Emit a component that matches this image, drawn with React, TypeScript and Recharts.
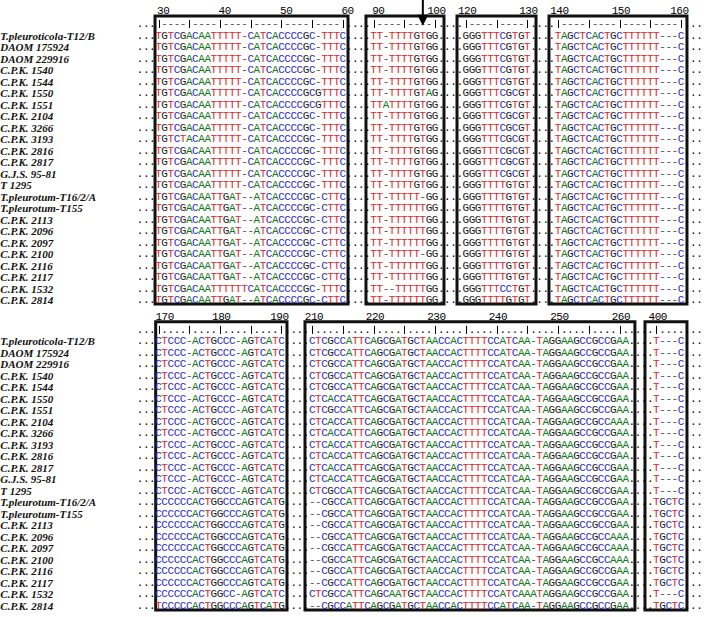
import { ReferenceArea, Scatter, ScatterChart, XAxis, YAxis } from "recharts";

// strain names, one per alignment row (same order in both panels)
const strains = [
  "T.pleuroticola-T12/B", "DAOM 175924", "DAOM 229916", "C.P.K. 1540", "C.P.K. 1544",
  "C.P.K. 1550", "C.P.K. 1551", "C.P.K. 2104", "C.P.K. 3266", "C.P.K. 3193",
  "C.P.K. 2816", "C.P.K. 2817", "G.J.S. 95-81", "T 1295", "T.pleurotum-T16/2/A",
  "T.pleurotum-T155", "C.P.K. 2113", "C.P.K. 2096", "C.P.K. 2097", "C.P.K. 2100",
  "C.P.K. 2116", "C.P.K. 2117", "C.P.K. 1532", "C.P.K. 2814",
];

// top panel, positions 30-60
const seq30 = [
  "TGTCGACAATTTTT-CATCACCCCGC-TTTC",
  "TGTCGACAATTTTT-CATCACCCCGCGTTTC",
  "TGTCTACAATTTTT-CATCACCCCGC-TTTC",
  "TGTCGACAATTGAT--ATCACCCCGC-CTTC",
  "TGTCGACAATTTTTTCATCACCCCGC-TTTC",
];
const row30 = [0, 0, 0, 0, 0, 1, 1, 0, 0, 2, 0, 0, 0, 0, 3, 3, 3, 3, 3, 3, 3, 3, 4, 3];

// positions 90-100
const seq90 = ["TT-TTTTGTGG", "TT-TTTTGTAG", "TTATTTTGTGG", "TT-TTTTT-GG", "TT-TTTTTTGG", "TT--TTTTTGG"];
const row90 = [0, 0, 0, 0, 0, 1, 2, 0, 0, 0, 0, 0, 0, 0, 3, 4, 4, 4, 4, 3, 4, 4, 5, 4];

// positions 120-130
const seq120 = ["GGGTTTCGTGT", "GGGTTTCGCGT", "GGGTTTTGTGT", "GGGTTTCCTGT"];
const row120 = [0, 0, 0, 0, 0, 1, 0, 1, 1, 1, 1, 1, 1, 2, 2, 2, 2, 2, 2, 2, 2, 2, 3, 2];

// positions 140-160
const seq140 = ["TAGCTCACTGCTTTTTT---C"];
const row140 = [0, 0, 0, 0, 0, 0, 0, 0, 0, 0, 0, 0, 0, 0, 0, 0, 0, 0, 0, 0, 0, 0, 0, 0];

// bottom panel, positions 170-190
const seq170 = ["CTCCC-ACTGCCC-AGTCATC", "CCCCCCACTGGCCCAGTCATG", "CCCCCCACTGGCC-AGTCATC", "TCCCCCACTGGCCCAGTCATG"];
const row170 = [0, 0, 0, 0, 0, 0, 0, 0, 0, 0, 0, 0, 0, 0, 1, 1, 1, 1, 1, 1, 1, 1, 2, 3];

// positions 210-261
const seq210 = [
  "CTCGCCATTCAGCGATGCTAACCACTTTTCCATCAA-TAGGAAGCCGCCGAA",
  "CTCACCATTCAGCGATGCTAACCACTTTTCCATCAA-TAGGAAGCCGCCGAA",
  "CTCACCATTCAGCGATGCTAACCACTTTTCCATCAA-TAGGAAGCCGCCAAA",
  "--CGCCATTCAGCGATGCTAACCACTTTTCCATCAA-TAGGAAGCCGCCGAA",
  "--CGCCATTCAGCGATGCTAACCACTTTTCCATCAA-TAGGAAGCCGCCAAA",
  "CTCGCCATTCAGCAATGCTAACCACTTTTCCATCAAATAGGAAGCCGCCGAA",
];
const row210 = [0, 0, 0, 0, 0, 1, 0, 2, 1, 1, 1, 1, 1, 0, 3, 3, 3, 4, 4, 4, 3, 3, 5, 3];

// positions 400-404
const seq400 = ["T---C", "TGCTC"];
const row400 = [0, 0, 0, 0, 0, 0, 0, 0, 0, 0, 0, 0, 0, 0, 1, 1, 1, 1, 1, 1, 1, 1, 0, 1];

// ruler numbers
const topTicks = [30, 40, 50, 60, 90, 100, 120, 130, 140, 150, 160];
const bottomTicks = [170, 180, 190, 210, 220, 230, 240, 250, 260, 400];
const arrowCol = 98;

// ---- layout (character cells of the monospaced line) ----
const LINE_CHARS = 92;
const W = 706;
const H = 617;
const X_DOMAIN: [number, number] = [-22.287, 92.565];
const Y_DOMAIN: [number, number] = [-3.087, 50.565];
const BOTTOM_BASE = 26.6;

type Blk = { col: number; char: number; box: [number, number]; seqs: string[]; rows: number[] };

const topBlocks: Blk[] = [
  { col: 30, char: 3, box: [2.93, 34.33], seqs: seq30, rows: row30 },
  { col: 90, char: 38, box: [37.25, 49.94], seqs: seq90, rows: row90 },
  { col: 120, char: 53, box: [52.06, 64.91], seqs: seq120, rows: row120 },
  { col: 140, char: 68, box: [67.02, 89.47], seqs: seq140, rows: row140 },
];
const bottomBlocks: Blk[] = [
  { col: 170, char: 3, box: [3.04, 24.4], seqs: seq170, rows: row170 },
  { col: 210, char: 28, box: [27.33, 81.0], seqs: seq210, rows: row210 },
  { col: 400, char: 84, box: [82.64, 89.47], seqs: seq400, rows: row400 },
];

const COLORS: Record<string, string> = {
  T: "#e3262b",
  C: "#2b2bc9",
  A: "#127a1c",
  G: "#1a1a1a",
  "-": "#555555",
};

type Pt = { x: number; y: number; ch: string };

function panel(blocks: Blk[], base: number, filler: string, ticks: number[]) {
  const seq: Pt[] = [];
  const ruler: Pt[] = [];
  const nums: Pt[] = [];
  strains.forEach((_, k) => {
    const line = Array.from({ length: LINE_CHARS }, () => ".");
    blocks.forEach((b) => {
      const s = b.seqs[b.rows[k]];
      for (let j = 0; j < s.length; j++) line[b.char + j] = s[j];
    });
    line.forEach((ch, i) => seq.push({ x: i + 0.5, y: base + k, ch }));
  });
  const rl = Array.from({ length: LINE_CHARS }, () => ".");
  blocks.forEach((b) => {
    const len = b.seqs[0].length;
    for (let j = 0; j < len; j++) rl[b.char + j] = (b.col + j) % 5 === 0 ? "|" : filler;
  });
  rl.forEach((ch, i) => ruler.push({ x: i + 0.5, y: base - 1, ch }));
  ticks.forEach((n) => {
    const b = blocks.find((bb) => n >= bb.col && n < bb.col + bb.seqs[0].length)!;
    const txt = String(n);
    let start = b.char + (n - b.col);
    if (txt.length === 3) {
      start -= 0.75;
      if (start < b.box[0]) start = b.box[0];
      if (start + 3 > b.box[1] + 0.3) start = b.box[1] + 0.3 - 3;
    } else {
      start += 0.3;
    }
    txt.split("").forEach((d, j) => nums.push({ x: start + j + 0.5, y: base - 2.1, ch: d }));
  });
  const labels = strains.map((s, k) => ({ x: X_DOMAIN[0] + 0.05, y: base + k, ch: s }));
  return { seq, ruler, nums, labels };
}

const top = panel(topBlocks, 0, "-", topTicks);
const bottom = panel(bottomBlocks, BOTTOM_BASE, ".", bottomTicks);

const arrowBlock = topBlocks.find((b) => arrowCol >= b.col && arrowCol < b.col + b.seqs[0].length)!;
const arrowPts = [{ x: arrowBlock.char + (arrowCol - arrowBlock.col) + 0.5, y: -2.5 }];

const MONO = "'Liberation Mono', 'DejaVu Sans Mono', monospace";

function CharShape(props: any) {
  const { cx, cy, payload } = props;
  if (payload.ch === "|") {
    // ruler tick drawn as a crisp line (a text glyph gets colour fringes)
    const x = Math.round(cx) + 0.5;
    return <line x1={x} y1={cy - 4} x2={x} y2={cy + 4} stroke="#000" strokeWidth={1} />;
  }
  return (
    <text
      x={cx}
      y={cy}
      textAnchor="middle"
      dominantBaseline="central"
      fontFamily={MONO}
      fontSize={11}
      fill={COLORS[payload.ch] ?? "#000"}
    >
      {payload.ch}
    </text>
  );
}

function LabelShape(props: any) {
  const { cx, cy, payload } = props;
  return (
    <text
      x={cx}
      y={cy}
      textAnchor="start"
      dominantBaseline="central"
      fontFamily="'Liberation Serif', serif"
      fontStyle="italic"
      fontWeight="bold"
      fontSize={11}
      fill="#111"
    >
      {payload.ch}
    </text>
  );
}

function ArrowShape(props: any) {
  const { cx, cy } = props;
  return (
    <g>
      <line x1={cx} y1={cy - 8} x2={cx} y2={cy + 9} stroke="#000" strokeWidth={2} />
      <polygon points={`${cx - 5.5},${cy + 8} ${cx + 5.5},${cy + 8} ${cx},${cy + 19}`} fill="#000" />
    </g>
  );
}

const boxes = [
  ...topBlocks.map((b) => ({ x1: b.box[0], x2: b.box[1], y1: -1.7, y2: 23.35 })),
  ...bottomBlocks.map((b) => ({ x1: b.box[0], x2: b.box[1], y1: BOTTOM_BASE - 1.7, y2: BOTTOM_BASE + 23.35 })),
];

export default function App() {
  const all = [top, bottom];
  return (
    <div style={{ position: "absolute", left: 0, top: 0, width: W, height: H, background: "white" }}>
      <ScatterChart width={W} height={H} margin={{ top: 0, right: 0, bottom: 0, left: 0 }}>
        <XAxis type="number" dataKey="x" domain={X_DOMAIN} allowDataOverflow hide />
        <YAxis type="number" dataKey="y" domain={Y_DOMAIN} allowDataOverflow reversed hide />
        {all.map((p, i) => (
          <Scatter key={`s${i}`} data={p.seq} shape={CharShape} isAnimationActive={false} />
        ))}
        {all.map((p, i) => (
          <Scatter key={`r${i}`} data={p.ruler} shape={CharShape} isAnimationActive={false} />
        ))}
        {all.map((p, i) => (
          <Scatter key={`n${i}`} data={p.nums} shape={CharShape} isAnimationActive={false} />
        ))}
        {all.map((p, i) => (
          <Scatter key={`l${i}`} data={p.labels} shape={LabelShape} isAnimationActive={false} />
        ))}
        <Scatter data={arrowPts} shape={ArrowShape} isAnimationActive={false} />
        {boxes.map((b, i) => (
          <ReferenceArea
            key={`b${i}`}
            x1={b.x1}
            x2={b.x2}
            y1={b.y1}
            y2={b.y2}
            fill="none"
            fillOpacity={0}
            stroke="#111"
            strokeWidth={3}
            ifOverflow="visible"
          />
        ))}
      </ScatterChart>
    </div>
  );
}
